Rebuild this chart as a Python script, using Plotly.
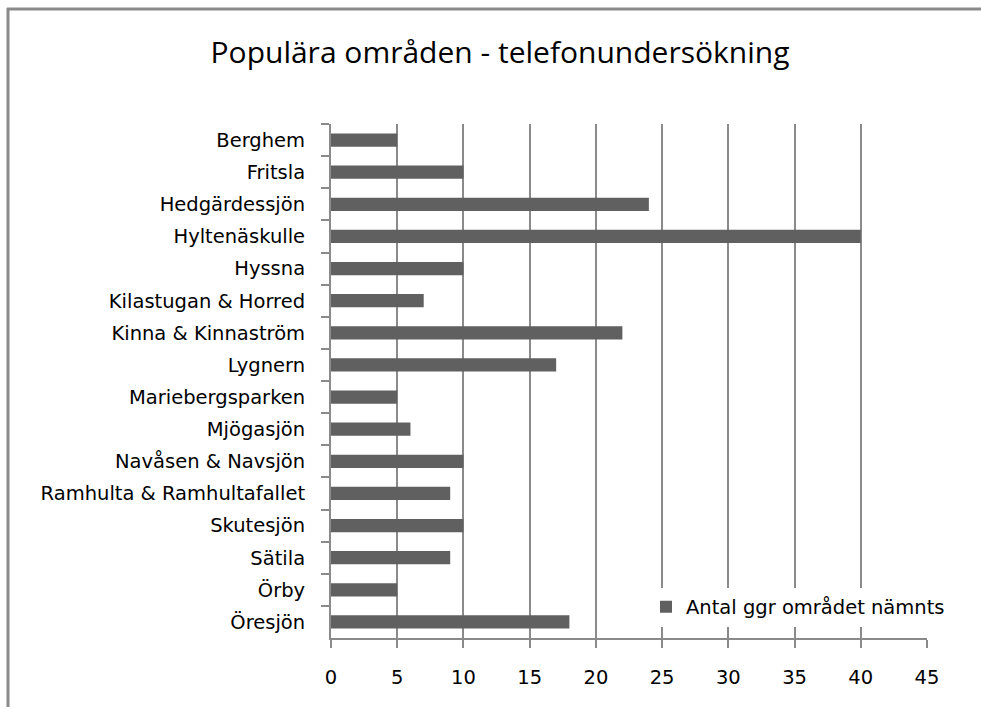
import plotly.graph_objects as go

categories = ["Berghem", "Fritsla", "Hedgärdessjön", "Hyltenäskulle", "Hyssna",
              "Kilastugan & Horred", "Kinna & Kinnaström", "Lygnern", "Mariebergsparken",
              "Mjögasjön", "Navåsen & Navsjön", "Ramhulta & Ramhultafallet", "Skutesjön",
              "Sätila", "Örby", "Öresjön"]
values = [5, 10, 24, 40, 10, 7, 22, 17, 5, 6, 10, 9, 10, 9, 5, 18]
series_name = "Antal ggr området nämnts"
title_text = "Populära områden - telefonundersökning"
x_ticks = [0, 5, 10, 15, 20, 25, 30, 35, 40, 45]

W, H = 981, 707
L, R, T, B = 331, 927, 124, 638
GRAY = "#8a8a8a"
FONT = "DejaVu Sans, Open Sans, sans-serif"

def px_x(p):
    return (p - L) / (R - L)

def px_y(p):
    return (B - p) / (B - T)

fig = go.Figure()
fig.add_trace(go.Bar(
    y=categories, x=values, orientation="h", name=series_name,
    marker=dict(color="#606060", line=dict(width=0)),
    showlegend=True,
))

fig.update_layout(
    width=W, height=H,
    margin=dict(l=L, r=W - R, t=T, b=H - B, pad=0),
    paper_bgcolor="white", plot_bgcolor="white",
    bargap=0.59,
    font=dict(family=FONT, size=19.5, color="#000000"),
    title=dict(text=title_text, x=500 / W, xanchor="center", y=1 - 52 / H, yanchor="middle",
               font=dict(family="Open Sans, sans-serif", size=30, color="#000000")),
    xaxis=dict(range=[0, 45], tickvals=x_ticks, showgrid=True, gridcolor=GRAY, gridwidth=2,
               zeroline=False, showline=True, linecolor=GRAY, linewidth=2,
               ticks="outside", ticklen=8, tickwidth=2, tickcolor=GRAY,
               tickfont=dict(family=FONT, size=19.5), fixedrange=True, ticklabelstandoff=13),
    yaxis=dict(autorange="reversed", showgrid=False, zeroline=False, showline=True,
               linecolor=GRAY, linewidth=2, ticks="outside", ticklen=8, tickwidth=2,
               tickcolor=GRAY, tickson="boundaries", tickfont=dict(family=FONT, size=19.5),
               ticklabelstandoff=20, fixedrange=True),
    legend=dict(x=px_x(646), y=px_y(607), xanchor="left", yanchor="middle",
                bgcolor="white", borderwidth=0, font=dict(family=FONT, size=19.5),
                itemwidth=30, tracegroupgap=0),
    shapes=[
        dict(type="line", xref="paper", yref="paper",
             x0=px_x(7), x1=px_x(1010), y0=px_y(9), y1=px_y(9),
             line=dict(color=GRAY, width=3), layer="above"),
        dict(type="line", xref="paper", yref="paper",
             x0=px_x(8), x1=px_x(8), y0=px_y(8), y1=px_y(740),
             line=dict(color=GRAY, width=3), layer="above"),
    ],
)

fig.write_html("out.html", config={"displayModeBar": False},
               post_script="document.body.style.margin='0';document.body.style.overflow='hidden';")
